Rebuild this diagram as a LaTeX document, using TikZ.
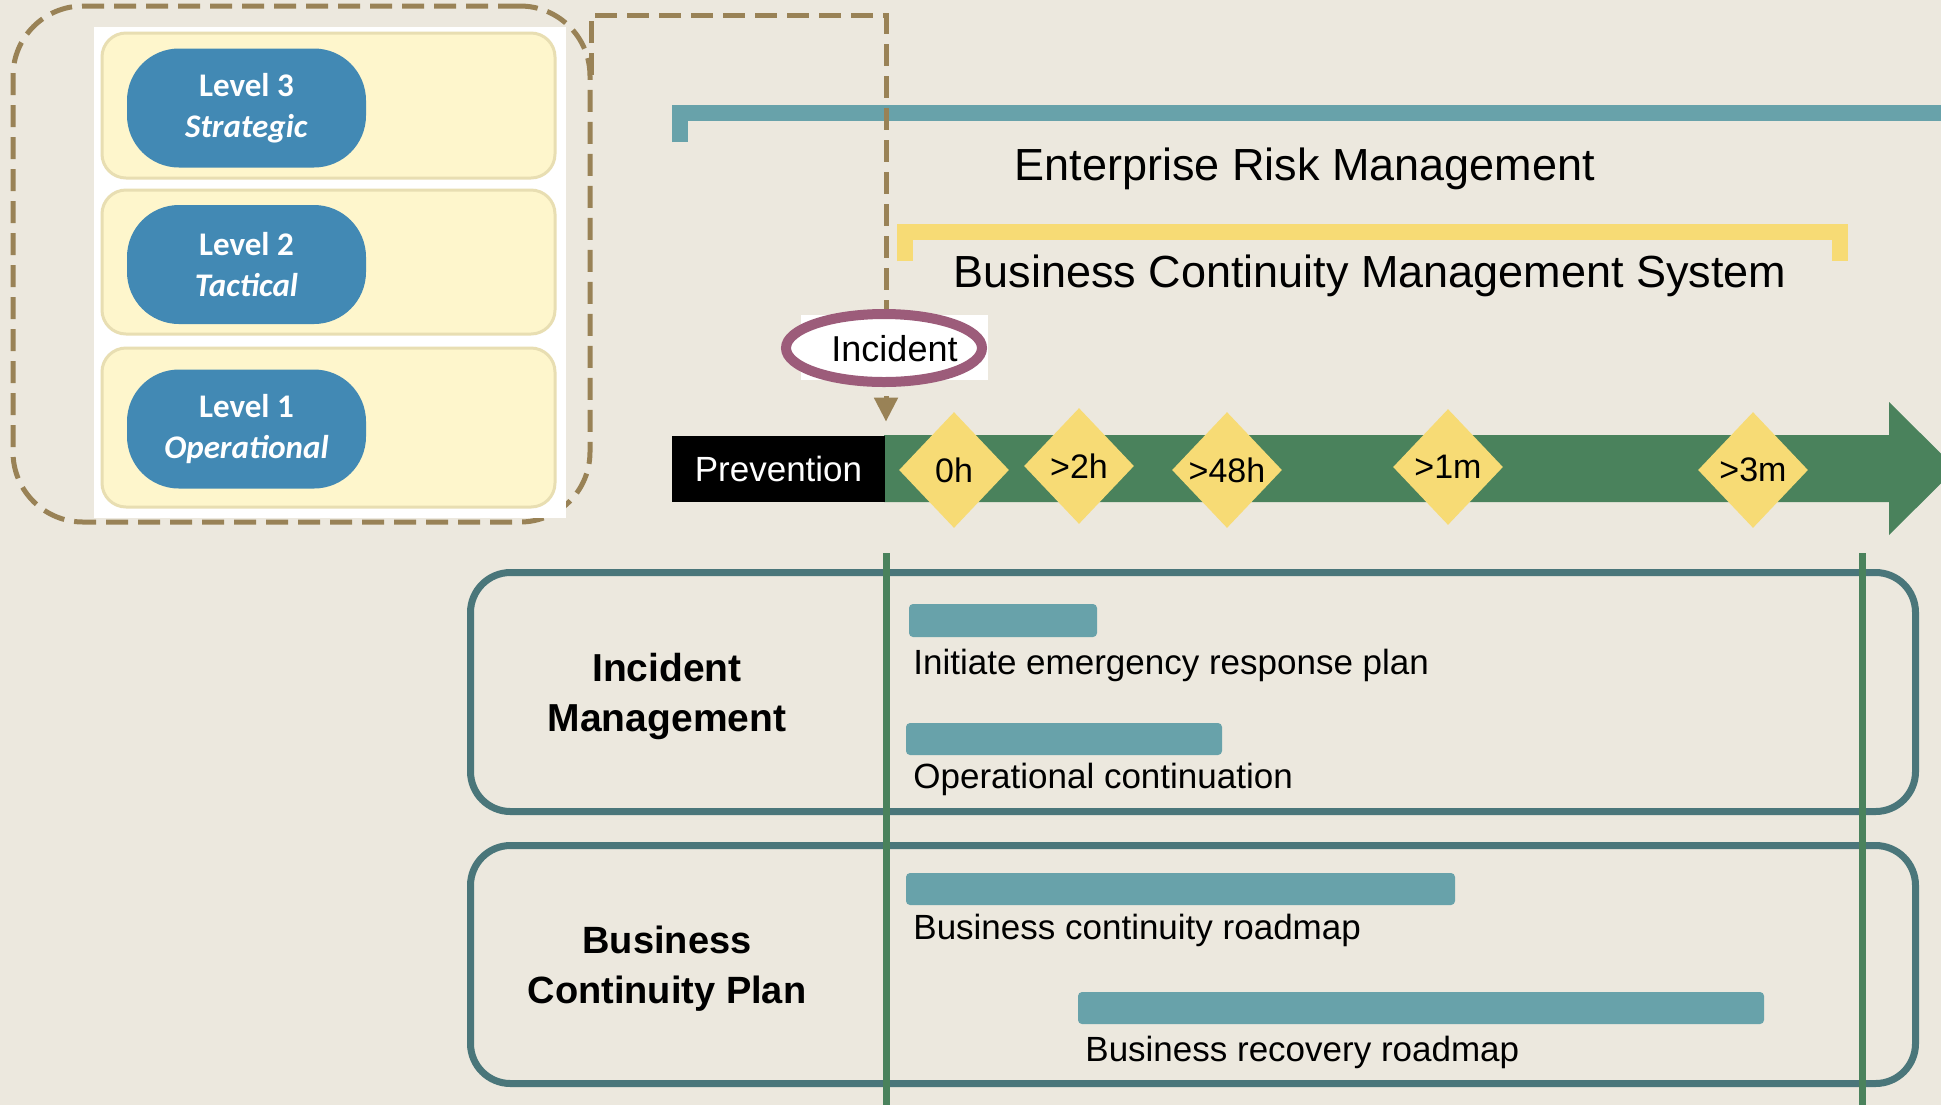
\documentclass[tikz,border=0pt]{standalone}
\usepackage{fontspec}
\setmainfont{Liberation Sans}
\newfontfamily\calfont{Carlito}
\usetikzlibrary{shapes.geometric,arrows.meta}
\definecolor{bgcream}{RGB}{236,232,222}
\definecolor{dashbrown}{RGB}{153,130,86}
\definecolor{rowfill}{RGB}{254,246,204}
\definecolor{rowedge}{RGB}{232,222,178}
\definecolor{pillblue}{RGB}{66,137,180}
\definecolor{ermteal}{RGB}{104,162,170}
\definecolor{gold}{RGB}{247,219,117}
\definecolor{arrowgreen}{RGB}{74,130,92}
\definecolor{plum}{RGB}{156,92,122}
\definecolor{boxedge}{RGB}{74,118,122}
\begin{document}
\begin{tikzpicture}[x=0.5pt, y=-0.5pt,
  row/.style={draw=rowedge, line width=1.5pt, fill=rowfill, rounded corners=12pt},
  lvl/.style={fill=pillblue, text=white, rounded corners=26pt, minimum width=119.5pt, minimum height=59.5pt, align=center, font=\calfont\bfseries\fontsize{16.5}{20.5}\selectfont},
  tick/.style={diamond, fill=gold, inner sep=0pt, minimum width=55pt, minimum height=58pt, font=\fontsize{17}{20}\selectfont},
  bar/.style={fill=ermteal, rounded corners=2pt},
  task/.style={anchor=base west, inner sep=0pt, font=\fontsize{17.5}{21}\selectfont},
  area/.style={draw=boxedge, line width=3.5pt, rounded corners=20pt},
  flow/.style={draw=dashbrown, line width=2.5pt, dash pattern=on 11pt off 5pt, -{Triangle[length=12pt,width=11.5pt]}},
]
\fill[bgcream] (0,0) rectangle (1941,1105);
\useasboundingbox (0,0) rectangle (1941,1105);
% levels
\node[draw=dashbrown, line width=2.5pt, dash pattern=on 11pt off 5pt, rounded corners=35pt, minimum width=288.5pt, minimum height=258pt] (G_0) at (301.5,264) {};
\fill[white] (94,27) rectangle (566,518);
\draw[row] (102,33) rectangle (555,178);
\draw[row] (102,190) rectangle (555,334);
\draw[row] (102,348) rectangle (555,507);
\node[lvl] (L_3) at (246.5,108) {Level 3\\\textit{Strategic}};
\node[lvl] (L_2) at (246.5,264.5) {Level 2\\\textit{Tactical}};
\node[lvl] (L_1) at (246.5,429) {Level 1\\\textit{Operational}};
% brackets
\draw[ermteal, line width=8pt] (680,142) -- (680,113) -- (1949,113) -- (1949,142);
\node[anchor=base, font=\fontsize{22.5}{27}\selectfont] (E_0) at (1305,180) {Enterprise Risk Management};
\draw[gold, line width=8pt] (905,261) -- (905,232) -- (1840,232) -- (1840,261);
\node[anchor=base, font=\fontsize{22.5}{27}\selectfont] (E_1) at (1370,287) {Business Continuity Management System};
% timeline
\fill[arrowgreen] (884,435) -- (1889,435) -- (1889,402) -- (1956,468.5) -- (1889,535) -- (1889,502) -- (884,502) -- cycle;
\node[fill=black, text=white, inner sep=0pt, minimum width=106.5pt, minimum height=33pt, font=\fontsize{17.5}{21}\selectfont] (P_0) at (778.5,469) {Prevention};
\node[tick] (T_0) at (954,470) {0h};
\node[tick] (T_1) at (1079,466) {>2h};
\node[tick] (T_2) at (1227,470) {>48h};
\node[tick] (T_3) at (1448,467) {>1m};
\node[tick] (T_4) at (1753,470) {>3m};
\coordinate (G_out) at (591,75);
\coordinate (G_turn) at (886,15);
\draw[flow, shorten >=7pt] (G_out) |- (G_turn) -- (G_turn |- P_0.north);
\fill[white] (801,315) rectangle (988,380);
\node[ellipse, draw=plum, fill=white, line width=5pt, minimum width=98pt, minimum height=34pt] (I_0) at (884,348) {};
\node[anchor=base, font=\fontsize{18}{21}\selectfont] (I_1) at (894.5,361) {Incident};
% plans
\draw[area] (470.5,572.5) rectangle (1915.5,811.5);
\draw[area] (470.5,845.5) rectangle (1915.5,1083.5);
\draw[arrowgreen, line width=3.5pt] (886,553) -- (886,1105);
\draw[arrowgreen, line width=3.5pt] (1862,553) -- (1862,1105);
\node[align=center, font=\bfseries\fontsize{19.5}{25}\selectfont] (A_1) at (667,696) {Incident\\Management};
\node[align=center, font=\bfseries\fontsize{19}{25}\selectfont] (A_2) at (667,969) {Business\\Continuity Plan};
\fill[bar] (909,604) rectangle (1097,637);
\node[task] (B_1) at (913,674) {Initiate emergency response plan};
\fill[bar] (906,723) rectangle (1222,755);
\node[task] (B_2) at (913,788) {Operational continuation};
\fill[bar] (906,873) rectangle (1455,905);
\node[task] (B_3) at (913,939) {Business continuity roadmap};
\fill[bar] (1078,992) rectangle (1764,1024);
\node[task] (B_4) at (1085,1061) {Business recovery roadmap};
\end{tikzpicture}
\end{document}
